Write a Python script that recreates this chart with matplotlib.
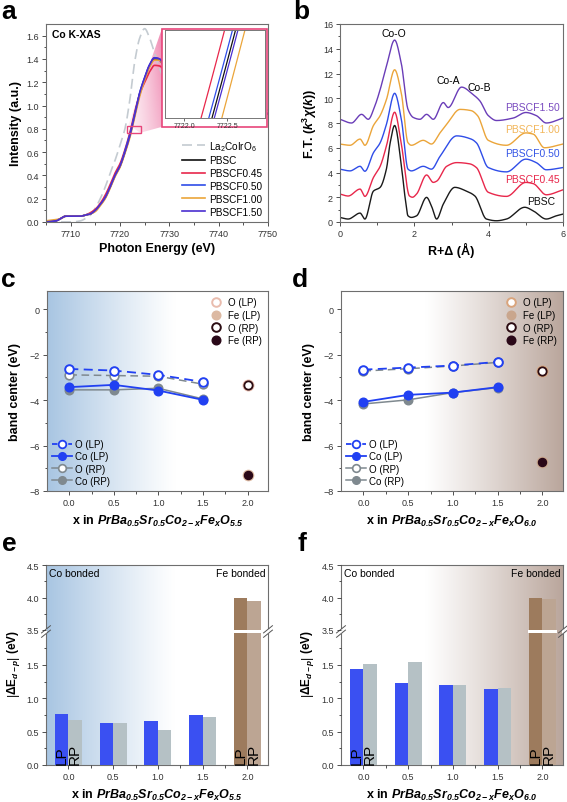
import numpy as np
import matplotlib
matplotlib.use('Agg')
import matplotlib.pyplot as plt
from matplotlib.lines import Line2D
from matplotlib.patches import Rectangle, Polygon

plt.rcParams['font.family'] = ['Liberation Sans', 'DejaVu Sans']
plt.rcParams['mathtext.fontset'] = 'custom'
plt.rcParams['mathtext.rm'] = 'Liberation Sans'
plt.rcParams['mathtext.it'] = 'Liberation Sans:italic'
plt.rcParams['mathtext.bf'] = 'Liberation Sans:bold'
try:
    plt.rcParams['mathtext.bfit'] = 'Liberation Sans:bold:italic'
except Exception:
    pass

# ---------------- data: panel a (Co K-XAS) ----------------
energy = [7705, 7707, 7708, 7709, 7710, 7712, 7713, 7714, 7715, 7716, 7717, 7718, 7719, 7720,
          7721, 7722, 7723, 7724, 7725, 7726, 7727, 7728, 7729, 7730, 7732, 7735, 7738, 7742, 7746, 7750]
xas_la2coiro6 = [0.00, 0.00, 0.00, 0.00, 0.00, 0.01, 0.03, 0.06, 0.12, 0.20, 0.30, 0.42, 0.53, 0.66,
                 0.80, 1.05, 1.38, 1.58, 1.66, 1.58, 1.45, 1.32, 1.22, 1.15, 1.05, 1.00, 0.98, 0.97, 0.96, 0.96]
xas_pbsc = [0.00, 0.01, 0.03, 0.05, 0.05, 0.05, 0.06, 0.07, 0.10, 0.15, 0.21, 0.30, 0.40, 0.48,
            0.60, 0.745, 0.925, 1.10, 1.23, 1.34, 1.40, 1.39, 1.33, 1.25, 1.12, 1.02, 0.97, 0.95, 0.94, 0.93]
xas_pbscf045 = [0.00, 0.01, 0.03, 0.05, 0.05, 0.05, 0.06, 0.08, 0.11, 0.16, 0.23, 0.32, 0.42, 0.50,
                0.62, 0.767, 0.947, 1.10, 1.20, 1.29, 1.345, 1.34, 1.30, 1.23, 1.11, 1.02, 0.97, 0.95, 0.94, 0.93]
xas_pbscf050 = [0.00, 0.01, 0.03, 0.05, 0.05, 0.05, 0.06, 0.07, 0.10, 0.15, 0.21, 0.30, 0.40, 0.48,
                0.61, 0.752, 0.932, 1.11, 1.24, 1.35, 1.41, 1.40, 1.33, 1.25, 1.12, 1.02, 0.97, 0.95, 0.94, 0.93]
xas_pbscf100 = [0.01, 0.02, 0.03, 0.05, 0.05, 0.05, 0.06, 0.07, 0.09, 0.14, 0.20, 0.29, 0.39, 0.47,
                0.59, 0.725, 0.905, 1.08, 1.22, 1.33, 1.39, 1.39, 1.33, 1.25, 1.12, 1.02, 0.97, 0.95, 0.94, 0.93]
xas_pbscf150 = [0.00, 0.01, 0.03, 0.05, 0.05, 0.05, 0.06, 0.07, 0.10, 0.15, 0.21, 0.30, 0.40, 0.48,
                0.60, 0.741, 0.921, 1.11, 1.24, 1.35, 1.41, 1.40, 1.34, 1.26, 1.12, 1.02, 0.97, 0.95, 0.94, 0.93]
xas_labels = ['La$_2$CoIrO$_6$', 'PBSC', 'PBSCF0.45', 'PBSCF0.50', 'PBSCF1.00', 'PBSCF1.50']

# ---------------- data: panel b (FT-EXAFS) ----------------
r_pbsc = [0.0, 0.22, 0.54, 0.67, 0.90, 1.08, 1.25, 1.35, 1.47, 1.65, 1.75, 1.83, 1.92, 2.06, 2.33, 2.46, 2.60,
          2.78, 3.09, 3.40, 3.63, 3.94, 4.21, 4.48, 4.97, 5.20, 5.55, 5.82, 6.0]
ft_pbsc = [0.37, 0.24, 0.72, 0.24, 2.5, 2.8, 4.3, 6.4, 7.8, 4.6, 2.0, 0.5, 0.37, 0.5, 1.99, 1.3, 0.24,
           1.45, 2.8, 2.5, 2.1, 0.24, 0.1, 0.24, 1.19, 0.9, 0.24, 0.5, 0.64]
r_045 = [0.0, 0.22, 0.54, 0.67, 0.90, 1.08, 1.25, 1.47, 1.65, 1.87, 1.95, 2.06, 2.33, 2.51, 2.60, 2.87,
         3.14, 3.49, 3.67, 3.99, 4.48, 5.0, 5.2, 5.55, 6.0]
ft_045 = [2.26, 2.1, 2.66, 2.07, 3.6, 4.5, 6.15, 8.87, 6.3, 2.1, 2.0, 2.26, 3.8, 3.2, 3.3, 4.5,
          4.8, 4.7, 4.4, 2.4, 2.07, 3.2, 3.1, 2.2, 2.6]
r_050 = [0.0, 0.27, 0.54, 0.67, 0.90, 1.08, 1.25, 1.47, 1.65, 1.83, 1.92, 2.24, 2.46, 2.69, 3.14, 3.53,
         3.67, 3.99, 4.48, 5.0, 5.28, 5.55, 6.0]
ft_050 = [4.27, 4.13, 4.5, 4.1, 5.6, 6.4, 7.9, 10.4, 8.3, 4.27, 4.13, 4.5, 4.27, 5.3, 6.96, 6.7,
          6.4, 4.4, 4.05, 5.08, 4.8, 4.22, 4.4]
r_100 = [0.0, 0.27, 0.54, 0.67, 0.90, 1.08, 1.25, 1.47, 1.65, 1.83, 1.92, 2.24, 2.46, 2.69, 2.87, 3.23,
         3.53, 3.70, 3.99, 4.48, 5.0, 5.2, 5.5, 6.0]
ft_100 = [6.3, 6.2, 6.7, 6.2, 7.8, 8.6, 9.9, 12.3, 10.4, 6.4, 6.2, 6.6, 6.3, 7.2, 7.9, 9.1,
          9.0, 8.6, 6.6, 6.2, 7.2, 7.1, 6.0, 6.3]
r_150 = [0.0, 0.31, 0.58, 0.76, 0.94, 1.08, 1.25, 1.47, 1.65, 1.83, 1.97, 2.15, 2.33, 2.51, 2.78, 2.91,
         3.27, 3.58, 3.76, 3.99, 4.21, 4.66, 5.0, 5.28, 5.55, 6.0]
ft_150 = [8.3, 8.0, 8.7, 8.3, 9.4, 10.7, 12.6, 14.7, 12.8, 9.1, 8.45, 8.3, 8.7, 8.3, 9.65, 9.25,
          10.9, 10.3, 9.8, 8.6, 8.2, 8.4, 8.85, 8.6, 8.0, 8.4]
ft_labels = ['PBSC', 'PBSCF0.45', 'PBSCF0.50', 'PBSCF1.00', 'PBSCF1.50']
peak_labels = ['Co-O', 'Co-A', 'Co-B']

# ---------------- data: panels c, d (band centers) ----------------
x_fe = [0.0, 0.5, 1.0, 1.5]
c_o_lp = [-2.63, -2.70, -2.89, -3.20]
c_co_lp = [-3.43, -3.33, -3.58, -3.99]
c_o_rp = [-2.89, -2.92, -2.95, -3.30]
c_co_rp = [-3.55, -3.55, -3.48, -3.95]
c_fe_o = -3.32
c_fe_fe = -7.28
d_o_lp = [-2.66, -2.57, -2.48, -2.32]
d_co_lp = [-4.08, -3.77, -3.67, -3.43]
d_o_rp = [-2.72, -2.62, -2.50, -2.34]
d_co_rp = [-4.17, -3.99, -3.67, -3.45]
d_fe_o = -2.72
d_fe_fe = -6.73

# ---------------- data: panels e, f (|dE d-p|) ----------------
x_all = [0.0, 0.5, 1.0, 1.5, 2.0]
e_lp = [0.77, 0.63, 0.655, 0.75, 3.99]
e_rp = [0.68, 0.63, 0.525, 0.715, 3.95]
f_lp = [1.44, 1.23, 1.20, 1.14, 4.00]
f_rp = [1.515, 1.55, 1.20, 1.15, 3.97]

W, H = 567, 803
fig = plt.figure(figsize=(W / 100, H / 100), dpi=100)


def prect(x0, y0, x1, y1):
    return [x0 / W, 1 - y1 / H, (x1 - x0) / W, (y1 - y0) / H]


def pchip(x, y, n=400):
    x = np.asarray(x, float); y = np.asarray(y, float)
    h = np.diff(x); d = np.diff(y) / h
    m = np.zeros_like(y)
    m[0] = d[0]; m[-1] = d[-1]
    for k in range(1, len(x) - 1):
        if d[k - 1] * d[k] > 0:
            w1 = 2 * h[k] + h[k - 1]; w2 = h[k] + 2 * h[k - 1]
            m[k] = (w1 + w2) / (w1 / d[k - 1] + w2 / d[k])
    xn = np.linspace(x[0], x[-1], n)
    idx = np.clip(np.searchsorted(x, xn) - 1, 0, len(x) - 2)
    t = (xn - x[idx]) / h[idx]
    h00 = 2 * t**3 - 3 * t**2 + 1; h10 = t**3 - 2 * t**2 + t
    h01 = -2 * t**3 + 3 * t**2; h11 = t**3 - t**2
    yn = h00 * y[idx] + h10 * h[idx] * m[idx] + h01 * y[idx + 1] + h11 * h[idx] * m[idx + 1]
    return xn, yn


SPC = '#6e6e6e'


def style(ax, lab=6.5):
    ax.tick_params(which='both', direction='out', labelsize=lab, width=0.6, colors='#333333', pad=2)
    ax.tick_params(which='major', length=3)
    ax.tick_params(which='minor', length=1.8)
    for s in ax.spines.values():
        s.set_color(SPC); s.set_linewidth(0.8)


def grad_bg(ax, side):
    t = np.linspace(0, 1, 300)
    if side == 'blue':
        c = np.array([168, 197, 226]) / 255
        w = np.clip(1 - t / 0.58, 0, 1) ** 1.1
    else:
        c = np.array([186, 166, 156]) / 255
        w = np.clip((t - 0.38) / 0.62, 0, 1) ** 1.1
    img = 1 - (1 - c)[None, :] * w[:, None]
    ax.imshow(img[None, :, :], extent=[0, 1, 0, 1], transform=ax.transAxes,
              aspect='auto', zorder=0, interpolation='bilinear')


LBL = dict(fontsize=19, fontweight='bold', ha='center', va='center')
fig.text(8.5 / W, 1 - 12 / H, 'a', **LBL)
fig.text(301 / W, 1 - 12 / H, 'b', **LBL)
fig.text(8.5 / W, 1 - 280 / H, 'c', **LBL)
fig.text(300 / W, 1 - 280 / H, 'd', **LBL)
fig.text(9 / W, 1 - 544 / H, 'e', **LBL)
fig.text(302 / W, 1 - 544 / H, 'f', **LBL)

# ================= panel a =================
axA = fig.add_axes(prect(46, 25, 268, 223))
style(axA)
cols_a = ['#c4cbd1', '#111111', '#e8274b', '#2f4de8', '#eba53a', '#4a2fd0']
series_a = [xas_la2coiro6, xas_pbsc, xas_pbscf045, xas_pbscf050, xas_pbscf100, xas_pbscf150]
handles = []
for i, (ys, col, lab) in enumerate(zip(series_a, cols_a, xas_labels)):
    xs, yn = pchip(energy, ys, 900)
    if i == 0:
        ln, = axA.plot(xs, yn, color=col, lw=1.2, dashes=(6, 3), label=lab, zorder=2)
    else:
        ln, = axA.plot(xs, yn, color=col, lw=1.2, label=lab, zorder=2 + i * 0.1)
    handles.append(ln)
axA.set_xlim(7705, 7750)
axA.set_ylim(0, 1.7)
axA.set_xticks([7710, 7720, 7730, 7740, 7750])
axA.set_xticks(np.arange(7705, 7751, 5), minor=True)
axA.set_yticks(np.arange(0, 1.61, 0.2))
axA.set_yticks(np.arange(0.1, 1.7, 0.2), minor=True)
axA.set_yticklabels([f'{v:.1f}' for v in np.arange(0, 1.61, 0.2)])
axA.set_xlabel('Photon Energy (eV)', fontsize=9, fontweight='bold', labelpad=3)
axA.set_ylabel('Intensity (a.u.)', fontsize=9, fontweight='bold', labelpad=3)
axA.text(0.025, 0.975, 'Co K-XAS', transform=axA.transAxes, fontsize=7.5, fontweight='bold',
         va='top', ha='left')
leg = axA.legend(handles=handles, loc='lower right', frameon=False, fontsize=7.2,
                 handlelength=2.3, handletextpad=0.4, labelspacing=0.28,
                 borderaxespad=0.15, bbox_to_anchor=(1.0, 0.0))
# pink zoom rectangle + fan
pink = '#e8457a'
axA.add_patch(Rectangle((7721.5, 0.766), 2.75, 0.062, fill=False, ec=pink, lw=1.0, zorder=6))
fan = Polygon([(7721.7, 0.834), (7728.5, 1.66), (7728.5, 0.817), (7724.1, 0.766)],
              closed=True, fc='none', ec='none', transform=axA.transData)
axA.add_patch(fan)
gx = np.linspace(0, 1, 200)
gy = np.linspace(0, 1, 100)
GX, GY = np.meshgrid(gx, gy)
rgba = np.zeros((100, 200, 4))
rgba[..., 0] = 232 / 255; rgba[..., 1] = 80 / 255; rgba[..., 2] = 140 / 255
rgba[..., 3] = 0.08 + 0.6 * GX ** 1.3 * (0.6 + 0.4 * GY)
im = axA.imshow(rgba, extent=[7721.5, 7728.5, 0.76, 1.67], origin='lower', aspect='auto',
                zorder=1.5, interpolation='bilinear')
im.set_clip_path(fan)
axA.set_xlim(7705, 7750)
axA.set_ylim(0, 1.7)
# white box with pink frame behind inset
axA.add_patch(Rectangle((162 / W, 1 - 128 / H), 105 / W, 98 / H, transform=fig.transFigure,
                        fc='white', ec=pink, lw=1.2, zorder=10, clip_on=False))

axI = fig.add_axes(prect(165, 31, 265, 119))
for ys, col in zip(series_a[1:], cols_a[1:]):
    xs, yn = pchip(energy, ys, 4000)
    axI.plot(xs, yn, color=col, lw=0.9)
axI.set_xlim(7721.78, 7722.94)
axI.set_ylim(0.8008, 0.8512)
axI.set_xticks([7722.0, 7722.5])
axI.set_xticklabels(['7722.0', '7722.5'])
axI.set_yticks([])
axI.tick_params(direction='out', labelsize=5, length=2, width=0.5, pad=1, colors='#333333')
for s in axI.spines.values():
    s.set_color('#777777'); s.set_linewidth(0.7)

# ================= panel b =================
axB = fig.add_axes(prect(340, 25, 563, 223))
style(axB)
cols_b = ['#1a1a1a', '#e8274b', '#2f4de8', '#eba53a', '#6a3db8']
txt_b = ['#111111', '#e8274b', '#3556e6', '#f2b65a', '#7a4cc0']
series_b = [(r_pbsc, ft_pbsc), (r_045, ft_045), (r_050, ft_050), (r_100, ft_100), (r_150, ft_150)]
for (rr, ff), col in zip(series_b, cols_b):
    xs, yn = pchip(rr, ff, 600)
    axB.plot(xs, yn, color=col, lw=1.0)
axB.set_xlim(0, 6)
axB.set_ylim(0, 16)
axB.set_xticks([0, 2, 4, 6])
axB.set_xticks([1, 3, 5], minor=True)
axB.set_yticks(np.arange(0, 17, 2))
axB.set_yticks(np.arange(1, 16, 2), minor=True)
axB.set_xlabel('R+Δ (Å)', fontsize=9, fontweight='bold', labelpad=3)
axB.set_ylabel(r'F.T. ($\mathbfit{k}^{\mathbf{3}}\mathbfit{\chi}\mathbf{(}\mathbfit{k}\mathbf{)}$)',
               fontsize=9, fontweight='bold', labelpad=3)
lab_pos = [(5.42, 1.7), (5.17, 3.5), (5.17, 5.6), (5.17, 7.5), (5.17, 9.3)]
for (xx, yy), lab, col in zip(lab_pos, ft_labels, txt_b):
    axB.text(xx, yy, lab, color=col, fontsize=7.5, ha='center', va='center')
for (xx, yy), lab in zip([(1.45, 15.3), (2.91, 11.5), (3.76, 10.9)], peak_labels):
    axB.text(xx, yy, lab, fontsize=7.5, ha='center', va='center')

# ================= panels c, d =================
BLUE = '#2140f2'
GRAY = '#7f898f'


def band_panel(rect, o_lp, co_lp, o_rp, co_rp, fe_o, fe_fe, side, formula, fecols):
    ax = fig.add_axes(rect)
    style(ax)
    grad_bg(ax, side)
    ms = 6.2
    ax.plot(x_fe, o_rp, color=GRAY, lw=1.1, dashes=(5, 3), marker='o', ms=ms, mfc='white',
            mec=GRAY, mew=1.2, zorder=3)
    ax.plot(x_fe, co_rp, color=GRAY, lw=1.1, marker='o', ms=ms, mfc=GRAY, mec=GRAY, zorder=3)
    ax.plot(x_fe, o_lp, color=BLUE, lw=1.3, dashes=(5, 3), marker='o', ms=ms, mfc='white',
            mec=BLUE, mew=1.4, zorder=4)
    ax.plot(x_fe, co_lp, color=BLUE, lw=1.3, marker='o', ms=ms, mfc=BLUE, mec=BLUE, zorder=4)
    o_lp_c, fe_lp_c, o_rp_c, fe_rp_c = fecols
    ax.plot([2.0], [fe_o], marker='o', ms=7.2, mfc='white', mec=o_lp_c, mew=1.4, ls='none', zorder=5)
    ax.plot([2.0], [fe_o], marker='o', ms=6.0, mfc='none', mec=o_rp_c, mew=1.3, ls='none', zorder=6)
    ax.plot([2.0], [fe_fe], marker='o', ms=7.4, mfc=fe_lp_c, mec=fe_lp_c, ls='none', zorder=5)
    ax.plot([2.0], [fe_fe], marker='o', ms=5.8, mfc=fe_rp_c, mec=fe_rp_c, ls='none', zorder=6)
    ax.set_xlim(-0.25, 2.23)
    ax.set_ylim(-8, 0.8)
    ax.set_xticks([0, 0.5, 1.0, 1.5, 2.0])
    ax.set_xticklabels(['0.0', '0.5', '1.0', '1.5', '2.0'])
    ax.set_xticks([0.25, 0.75, 1.25, 1.75], minor=True)
    ax.set_yticks([-8, -6, -4, -2, 0])
    ax.set_yticks([-7, -5, -3, -1], minor=True)
    ax.set_ylabel('band center (eV)', fontsize=9, fontweight='bold', labelpad=6)
    ax.set_xlabel('x in ' + formula, fontsize=9, fontweight='bold', labelpad=4)
    h1 = [Line2D([], [], ls='none', marker='o', ms=6.2, mfc='white', mec=o_lp_c, mew=1.4),
          Line2D([], [], ls='none', marker='o', ms=6.2, mfc=fe_lp_c, mec=fe_lp_c),
          Line2D([], [], ls='none', marker='o', ms=6.2, mfc='white', mec=o_rp_c, mew=1.4),
          Line2D([], [], ls='none', marker='o', ms=6.2, mfc=fe_rp_c, mec=fe_rp_c)]
    l1 = ax.legend(h1, ['O (LP)', 'Fe (LP)', 'O (RP)', 'Fe (RP)'], loc='upper right', frameon=False,
                   fontsize=7, handletextpad=0.6, labelspacing=0.28, borderaxespad=0.25,
                   handlelength=1.2)
    ax.add_artist(l1)
    h2 = [Line2D([], [], color=BLUE, lw=1.3, dashes=(3, 1.5), marker='o', ms=5.5, mfc='white', mec=BLUE, mew=1.3),
          Line2D([], [], color=BLUE, lw=1.3, marker='o', ms=5.5, mfc=BLUE, mec=BLUE),
          Line2D([], [], color=GRAY, lw=1.1, marker='o', ms=5.5, mfc='white', mec=GRAY, mew=1.2),
          Line2D([], [], color=GRAY, lw=1.1, marker='o', ms=5.5, mfc=GRAY, mec=GRAY)]
    ax.legend(h2, ['O (LP)', 'Co (LP)', 'O (RP)', 'Co (RP)'], loc='lower left', frameon=False,
              fontsize=7, handletextpad=0.3, labelspacing=0.22, borderaxespad=0.15,
              handlelength=2.0)
    return ax


form55 = r'$\mathbfit{PrBa_{0.5}Sr_{0.5}Co_{2-x}Fe_xO_{5.5}}$'
form60 = r'$\mathbfit{PrBa_{0.5}Sr_{0.5}Co_{2-x}Fe_xO_{6.0}}$'
band_panel(prect(47, 292, 268, 492), c_o_lp, c_co_lp, c_o_rp, c_co_rp, c_fe_o, c_fe_fe, 'blue', form55,
           ('#e9bcae', '#dcb9a2', '#2b0c12', '#2a0818'))
band_panel(prect(341, 292, 563, 492), d_o_lp, d_co_lp, d_o_rp, d_co_rp, d_fe_o, d_fe_fe, 'brown', form60,
           ('#d9a47c', '#c9a68d', '#2b0c12', '#2a0818'))

# ================= panels e, f =================
LP_CO, RP_CO, LP_FE, RP_FE = '#3a50f2', '#b5c1c5', '#9d7b5d', '#bca593'


def bar_panel(x0, x1, lp, rp, side, formula, ylab_x):
    bg = fig.add_axes(prect(x0, 566, x1, 766))
    grad_bg(bg, side)
    bg.set_xticks([]); bg.set_yticks([])
    bg.set_xlim(0, 1); bg.set_ylim(0, 1)
    for s in bg.spines.values():
        s.set_color(SPC); s.set_linewidth(0.8)
    lo = fig.add_axes(prect(x0, 634, x1, 766))
    up = fig.add_axes(prect(x0, 566, x1, 631))
    for ax in (lo, up):
        ax.patch.set_visible(False)
        style(ax)
        for s in ax.spines.values():
            s.set_visible(False)
        ax.set_xlim(-0.25, 2.23)
        lpc = [LP_CO] * 4 + [LP_FE]
        rpc = [RP_CO] * 4 + [RP_FE]
        ax.bar(np.array(x_all) - 0.075, lp, 0.15, color=lpc, zorder=2)
        ax.bar(np.array(x_all) + 0.075, rp, 0.15, color=rpc, zorder=2)
    lo.set_ylim(0, 132 / 66.7)
    up.set_ylim(3.5, 4.5)
    lo.set_yticks([0, 0.5, 1.0, 1.5])
    lo.set_yticklabels(['0.0', '0.5', '1.0', '1.5'])
    lo.set_yticks([0.25, 0.75, 1.25, 1.75], minor=True)
    up.set_yticks([3.5, 4.0, 4.5])
    up.set_yticklabels(['3.5', '4.0', '4.5'])
    up.set_yticks([3.75, 4.25], minor=True)
    up.set_xticks([])
    up.tick_params(which='both', bottom=False)
    lo.set_xticks(x_all)
    lo.set_xticklabels(['0.0', '0.5', '1.0', '1.5', '2.0'])
    lo.set_xticks([0.25, 0.75, 1.25, 1.75], minor=True)
    lo.set_xlabel('x in ' + formula, fontsize=9, fontweight='bold', labelpad=4)
    # white gap across the tall Fe bars only
    lo.add_patch(Rectangle((x_all[4] - 0.16, 132 / 66.7), 0.32, 3.5 / 66.7,
                           fc='white', ec='none', zorder=3, clip_on=False))
    # break marks on both spines
    yb = (766 - 632.5) / 200
    for xb in (0, 1):
        bg.add_patch(Rectangle((xb - 0.006, yb - 0.012), 0.012, 0.024, transform=bg.transAxes,
                               fc='white', ec='none', zorder=4, clip_on=False))
        for dy in (-0.011, 0.011):
            bg.add_line(Line2D([xb - 0.02, xb + 0.02], [yb + dy - 0.018, yb + dy + 0.018],
                               transform=bg.transAxes, color='#555555', lw=0.7, zorder=5,
                               clip_on=False))
    up.text(0.015, 0.95, 'Co bonded', transform=up.transAxes, fontsize=7.5, ha='left', va='top')
    up.text(0.99, 0.95, 'Fe bonded', transform=up.transAxes, fontsize=7.5, ha='right', va='top')
    for xx, t in ((x_all[0] - 0.075, 'LP'), (x_all[0] + 0.075, 'RP'),
                  (x_all[4] - 0.075, 'LP'), (x_all[4] + 0.075, 'RP')):
        lo.text(xx, 0.02, t, rotation=90, ha='center', va='bottom', fontsize=11, zorder=5)
    fig.text(ylab_x / W, 1 - 664 / H, r'$\left|\mathbf{\Delta E}_{\mathbfit{d-p}}\right|$ (eV)',
             rotation=90, ha='center', va='center', fontsize=8.5, fontweight='bold')


bar_panel(46, 268, e_lp, e_rp, 'blue', form55, 14)
bar_panel(341, 563, f_lp, f_rp, 'brown', form60, 308)

fig.savefig('out.png', dpi=100)
